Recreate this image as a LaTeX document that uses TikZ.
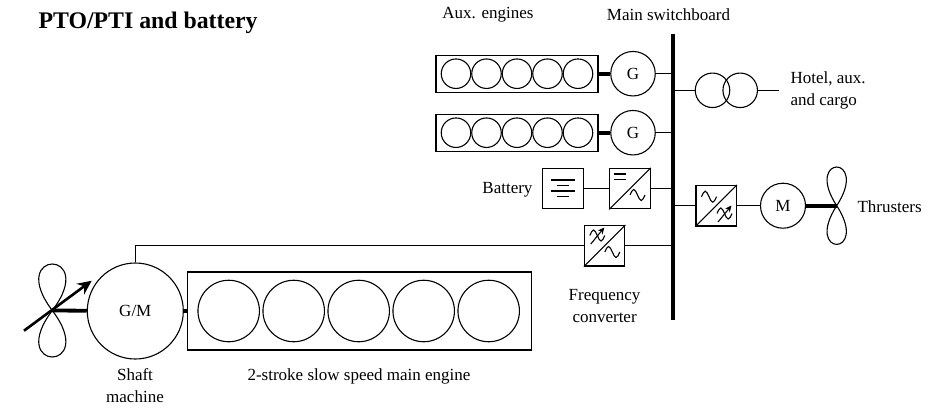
\documentclass[tikz,border=0pt]{standalone}
\usepackage{fontspec}
\setmainfont{Liberation Serif}
\usetikzlibrary{positioning,calc,arrows.meta}
\begin{document}
\begin{tikzpicture}[x=1pt,y=-1pt,>=Stealth,line width=1.1pt,align=center,font=\fontsize{17}{22}\selectfont]
    \tikzset{
        machine/.style={draw,circle,inner sep=0pt,minimum size=#1},
        cylinder/.style={draw,circle,inner sep=0pt,minimum size=#1},
        enginebox/.style={draw,rectangle,inner sep=0pt},
        converter/.style={draw,rectangle,inner sep=0pt,minimum size=40.5pt},
        shaft/.style={line width=3.8pt},
        caption/.style={inner sep=0pt},
        pics/sinewave/.style={code={
            \draw (-7.5,0) sin (-3.75,-5.5) cos (0,0) sin (3.75,5.5) cos (7.5,0);
        }},
        pics/varwave/.style={code={
            \draw (-7.5,0) sin (-3.75,-5.5) cos (0,0) sin (3.75,5.5) cos (7.5,0);
            \draw[-{Stealth[length=6.5pt,width=6pt]}] (-6.5,8.5) -- (7,-8);
        }}
    }
    \useasboundingbox (0,0) rectangle (938,408);

    % Title
    \node[caption,anchor=west,font=\fontsize{23.8}{26}\selectfont\bfseries] (title) at (38,23) {PTO/PTI and battery};

    % Main switchboard
    \coordinate (bus_T) at (673,34);
    \coordinate (bus_B) at (673,320);
    \draw[line width=4.6pt] (bus_T) -- (bus_B);
    \node[caption] (bus_label) at (668.5,15) {Main switchboard};

    % Aux engines
    \foreach \name/\y in {A/73.7,B/132.7} {
        \node[enginebox,minimum width=162pt,minimum height=37pt] (aux\name) at (517,\y) {};
        \foreach \n/\x in {1/456,2/486.5,3/517,4/547.5,5/578} {
            \node[cylinder=29.5pt] (aux\name\n) at (\x,\y) {};
        }
        \node[machine=44.5pt] (G\name) at (633,\y) {G};
        \draw[shaft] (aux\name) -- (G\name);
        \draw (G\name) -- (G\name -| bus_T);
    }
    \node[caption] (aux_label) at (488,15) {Aux. engines};

    % Hotel transformer
    \node[machine=34.5pt] (T1) at (712.5,90.3) {};
    \node[machine=34.5pt] (T2) at (740.2,90.3) {};
    \coordinate (hotel_end) at (778.7,90.3);
    \draw (T1 -| bus_T) -- (T1);
    \draw (T2) -- (hotel_end);
    \node[caption,anchor=west,align=left] (hotel_label) at (790,90) {Hotel, aux.\\and cargo};

    % Battery
    \node[converter] (battery) at (563,188.6) {};
    \draw (battery.center) ++(-12.3,-8.6) -- ++(24.6,0)
          (battery.center) ++(-6.3,-2.9) -- ++(12.6,0)
          (battery.center) ++(-12.3,2.4) -- ++(24.6,0)
          (battery.center) ++(-6.3,8.1) -- ++(12.6,0);
    \node[caption,anchor=east] (battery_label) at (533,190) {Battery};
    \node[converter] (DC) at (630,188.6) {};
    \draw (DC.south west) -- (DC.north east);
    \draw (DC.center) ++(-16,-14.6) -- ++(11.7,0)
          (DC.center) ++(-16,-9.3) -- ++(11.7,0);
    \pic at (637.5,195) {sinewave};
    \draw (battery) -- (DC);
    \draw (DC) -- (DC -| bus_T);

    % Thruster branch
    \node[converter] (TC) at (716.2,205.7) {};
    \draw (TC.south west) -- (TC.north east);
    \pic at (709,196.7) {sinewave};
    \pic at (724.5,213.5) {varwave};
    \node[machine=45pt] (M) at (783,205.7) {M};
    \draw (TC -| bus_T) -- (TC);
    \draw (TC) -- (M);
    \coordinate (thr_hub) at (836.7,205.7);
    \draw[shaft] (M) -- (thr_hub);
    \draw (thr_hub) .. controls +(-33.5,-51.6) and +(33.5,-51.6) .. (thr_hub)
        .. controls +(-33.5,51.6) and +(33.5,51.6) .. (thr_hub);
    \node[caption,anchor=west] (thr_label) at (857,207) {Thrusters};

    % Frequency converter
    \node[converter] (FC) at (604.6,245.7) {};
    \draw (FC.south west) -- (FC.north east);
    \pic at (597.3,235.5) {varwave};
    \pic at (612.3,252) {sinewave};
    \draw (FC) -- (FC -| bus_T);
    \node[caption] (FC_label) at (604.6,306) {Frequency\\converter};

    % Main engine
    \node[enginebox,minimum width=344.5pt,minimum height=78pt] (ME) at (359.3,311) {};
    \foreach \n/\x in {1/228.7,2/293.7,3/358.7,4/423.7,5/488.7} {
        \node[cylinder=61.5pt] (ME\n) at (\x,311) {};
    }
    \node[caption] (ME_label) at (359,376) {2-stroke slow speed main engine};

    % Shaft machine
    \node[machine=96pt] (GM) at (135.3,311) {G/M};
    \draw[shaft] (GM) -- (ME);
    \draw (GM.north) |- (FC);
    \node[caption] (GM_label) at (135,386) {Shaft\\machine};

    % Propeller
    \coordinate (prop_hub) at (52.3,310.5);
    \coordinate (arrow_S) at (24,330.7);
    \coordinate (arrow_E) at (91.7,280.7);
    \draw[shaft] (GM) -- (prop_hub);
    \draw (prop_hub) .. controls +(-47,-62) and +(47,-62) .. (prop_hub)
        .. controls +(-47,62) and +(47,62) .. (prop_hub);
    \draw[-{Stealth[length=14pt,width=13pt]},line width=2.6pt] (arrow_S) -- (arrow_E);
\end{tikzpicture}
\end{document}
